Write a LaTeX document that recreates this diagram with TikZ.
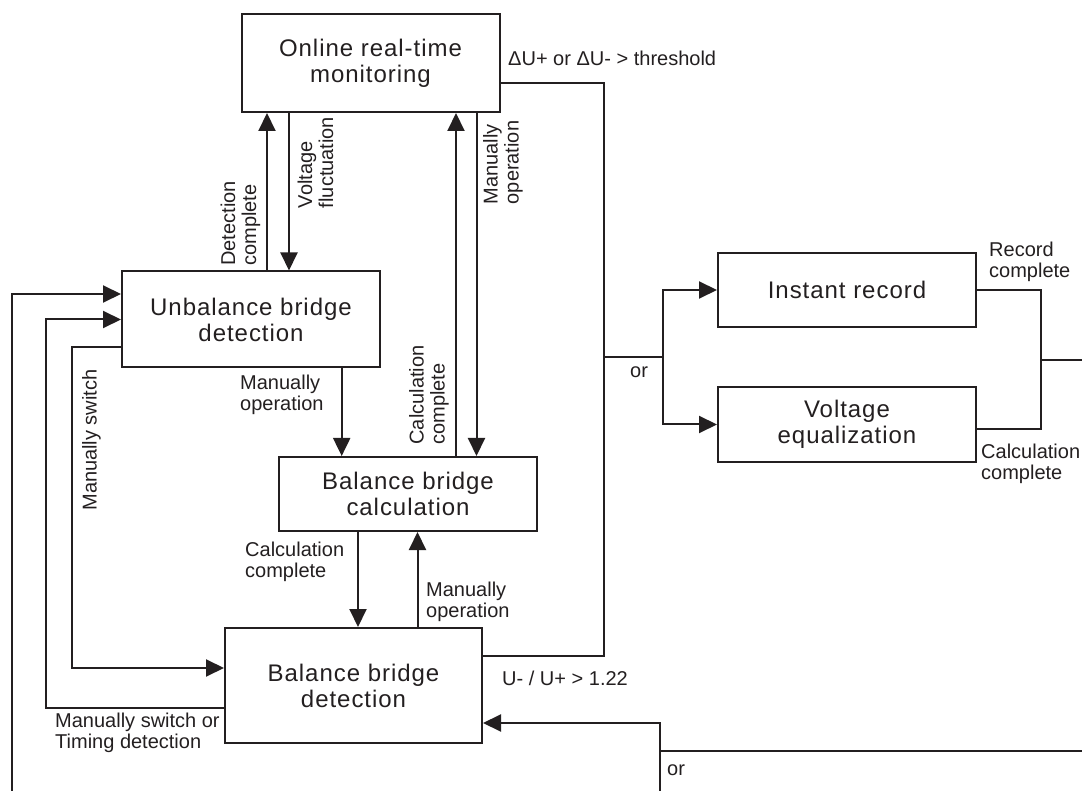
\documentclass[tikz,border=0pt]{standalone}
\usepackage{fontspec}
\usetikzlibrary{arrows.meta}
\newfontfamily\boxfont[LetterSpace=4]{Liberation Sans}
\newfontfamily\lblfont{Liberation Sans}
\definecolor{ink}{HTML}{231F20}

\begin{document}
\begin{tikzpicture}[x=1pt, y=-1pt, color=ink,
	box/.style={rectangle, draw=ink, line width=2pt, minimum width=258pt, inner sep=0pt, align=center, font=\boxfont\fontsize{24}{26}\selectfont},
	lbl/.style={inner sep=0pt, align=left, font=\lblfont\fontsize{20}{21}\selectfont},
	wire/.style={draw=ink, line width=2pt},
	arr/.style={wire, -{Triangle[length=18pt, width=17pt]}}]
	\useasboundingbox (0,0) rectangle (1082,791);
	\node (b1) at (370.5,63)[box, minimum height=98pt]{Online real-time\\monitoring};
	\node (b2) at (251,319.5)[box, minimum height=96pt]{Unbalance bridge\\detection};
	\node (b3) at (408,494)[box, minimum height=74pt]{Balance bridge\\calculation};
	\node (b4) at (353.5,685.5)[box, minimum width=257pt, minimum height=115pt]{Balance bridge\\detection};
	\node (b5) at (847,290)[box, minimum height=74pt]{Instant record};
	\node (b6) at (847,424.5)[box, minimum height=75pt]{Voltage\\equalization};
	\coordinate (c1) at (604,357);
	\coordinate (c2) at (663,357);
	\coordinate (c3) at (1041,360);
	\coordinate (c4) at (1082,360);
	\coordinate (c5) at (660,791);
	\coordinate (c6) at (660,751);
	\coordinate (c7) at (1082,751);
	\coordinate (c8) at (12,791);
	\coordinate (c9) at (46,708);
	\coordinate (c10) at (72,347);
	\draw[arr] ([xshift=16pt]b2.north) -- ([xshift=16pt]b2.north |- b1.south);
	\draw[arr] ([xshift=38pt]b2.north |- b1.south) -- ([xshift=38pt]b2.north);
	\draw[arr] ([xshift=48pt]b3.north) -- ([xshift=48pt]b3.north |- b1.south);
	\draw[arr] ([xshift=68.5pt]b3.north |- b1.south) -- ([xshift=68.5pt]b3.north);
	\draw[arr] ([xshift=-66.3pt]b3.north |- b2.south) -- ([xshift=-66.3pt]b3.north);
	\draw[arr] ([xshift=-50pt]b3.south) -- ([xshift=-50pt]b3.south |- b4.north);
	\draw[arr] ([xshift=9.5pt]b3.south |- b4.north) -- ([xshift=9.5pt]b3.south);
	\draw[wire] ([yshift=-20pt]b1.east) -| (c1) |- ([yshift=29.5pt]b4.east);
	\draw[arr] (c1) -- (c2) |- (b5.west);
	\draw[arr] (c2) |- (b6.west);
	\draw[wire] (b5.east) -| (c3) |- ([yshift=-4.5pt]b6.east);
	\draw[wire] (c3) -- (c4);
	\draw[arr] (c5) -- (c6) |- ([yshift=-37.5pt]b4.east);
	\draw[wire] (c6) -- (c7);
	\draw[arr] (c8) |- ([yshift=25.5pt]b2.west);
	\draw[arr] ([yshift=-22.5pt]b4.west) -- (c9) |- (b2.west);
	\draw[arr] ([yshift=-27.5pt]b2.west) -- (c10) |- ([yshift=17.5pt]b4.west);
	\node (t1) at (508,58)[lbl, anchor=west]{ΔU+ or ΔU- > threshold};
	\node (t2) at (989,261.5)[lbl, anchor=west]{Record\\complete};
	\node (t3) at (981,464)[lbl, anchor=west]{Calculation\\complete};
	\node (t4) at (630,372)[lbl, anchor=west]{or};
	\node (t5) at (667,770)[lbl, anchor=west]{or};
	\node (t6) at (502,678)[lbl, anchor=west]{U- / U+ > 1.22};
	\node (t7) at (55,732.5)[lbl, anchor=west]{Manually switch or\\Timing detection};
	\node (t8) at (245,561.5)[lbl, anchor=west]{Calculation\\complete};
	\node (t9) at (426,601.5)[lbl, anchor=west]{Manually\\operation};
	\node (t10) at (240,394.5)[lbl, anchor=west]{Manually\\operation};
	\node (t11) at (240.5,223.5)[lbl, rotate=90]{Detection\\complete};
	\node (t12) at (315.5,162.5)[lbl, rotate=90]{Voltage\\fluctuation};
	\node (t13) at (503,162.5)[lbl, rotate=90]{Manually\\operation};
	\node (t14) at (429,395)[lbl, rotate=90]{Calculation\\complete};
	\node (t15) at (91.5,440)[lbl, rotate=90]{Manually switch};
\end{tikzpicture}
\end{document}
